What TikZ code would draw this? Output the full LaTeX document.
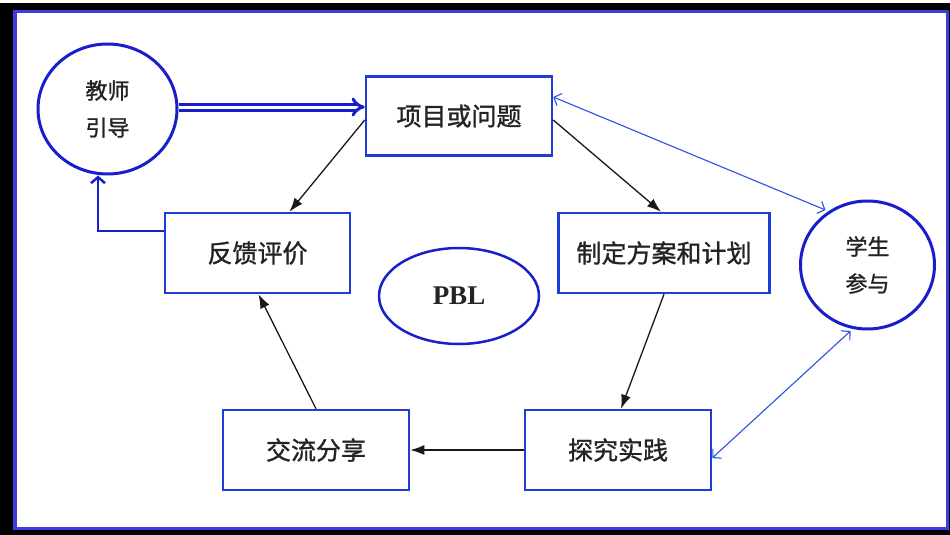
\documentclass[tikz,border=0pt]{standalone}
\usepackage{fontspec}
\setmainfont{Noto Sans CJK SC}[FakeBold=1.2]
\newfontfamily\pblfont{Liberation Serif}
\usetikzlibrary{arrows.meta,shapes.geometric,calc}
\definecolor{frameblue}{RGB}{60,60,225}
\definecolor{boxblue}{RGB}{30,60,215}
\definecolor{circblue}{RGB}{25,30,205}
\definecolor{lineblue}{RGB}{45,80,225}
\definecolor{txtgray}{RGB}{35,35,35}
\tikzset{
  stagebox/.style={draw=boxblue, line width=2.5pt, fill=white, inner sep=0pt,
    minimum width=186pt, minimum height=79pt, text=txtgray,
    font=\fontsize{25}{28}\selectfont},
  rolecirc/.style={ellipse, draw=circblue, line width=3pt, fill=white, inner sep=0pt,
    text=txtgray, align=center, font=\fontsize{22}{37}\selectfont},
  flowarrow/.style={draw=black!90, line width=1.3pt, -{Latex[length=14pt,width=10pt]}},
  partarrow/.style={draw=lineblue, line width=1.1pt,
    {Straight Barb[length=6pt,width=13pt]}-{Straight Barb[length=6pt,width=13pt]}},
  backarrow/.style={draw=circblue, line width=2.5pt, -{Straight Barb[length=6pt,width=14pt]}},
  dblarrow/.style={draw=circblue, line width=3pt, double=white, double distance=3pt, -{Implies}}
}
\begin{document}
\begin{tikzpicture}[x=1pt,y=-1pt]
\useasboundingbox (0,0) rectangle (950,535);
% frames
\fill[black] (0,3) rectangle (950,535);
\filldraw[fill=white, draw=frameblue, line width=3.5pt] (15,11.5) rectangle (947.5,528.5);
% nodes
\node[rolecirc, minimum width=139pt, minimum height=130pt] (teacher) at (107.5,109) {教师\\引导};
\node[stagebox] (proj) at (459,116) {项目或问题};
\node[stagebox, minimum width=185pt, minimum height=80pt] (feed) at (257.5,253) {反馈评价};
\node[ellipse, draw=circblue, line width=2.5pt, fill=white, inner sep=0pt,
  minimum width=160pt, minimum height=96pt, font=\pblfont\bfseries\fontsize{27}{30}\selectfont,
  text=txtgray] (pbl) at (459,296) {PBL};
\node[stagebox, minimum width=211pt, minimum height=80pt] (plan) at (664,253) {制定方案和计划};
\node[rolecirc, minimum width=134pt, minimum height=128pt] (student) at (867.5,265) {学生\\参与};
\node[stagebox, minimum height=80pt] (share) at (316,450) {交流分享};
\node[stagebox, minimum height=80pt] (expl) at (618,450) {探究实践};
% connectors
\draw[dblarrow] ($(teacher.east)+(0,-2)$) -- ($(proj.west)+(0,-9)$);
\draw[flowarrow] ($(proj.west)+(0,4)$) -- ($(feed.north)+(32,0)$);
\draw[flowarrow] ($(proj.east)+(0,4)$) -- ($(plan.north)+(-3,0)$);
\draw[flowarrow] (plan.south) -- ($(expl.north)+(3,0)$);
\draw[flowarrow] (expl.west) -- (share.east);
\draw[flowarrow] (share.north) -- ($(feed.south)+(1,0)$);
\draw[backarrow] ($(feed.west)+(0,-22)$) -| ($(teacher.south)+(-9.5,0)$);
\draw[partarrow] ($(proj.east)+(0,-19)$) -- ($(student.center)+(-42,-55)$);
\draw[partarrow] ($(expl.east)+(0,8)$) -- ($(student.center)+(-17,66)$);
\end{tikzpicture}
\end{document}
